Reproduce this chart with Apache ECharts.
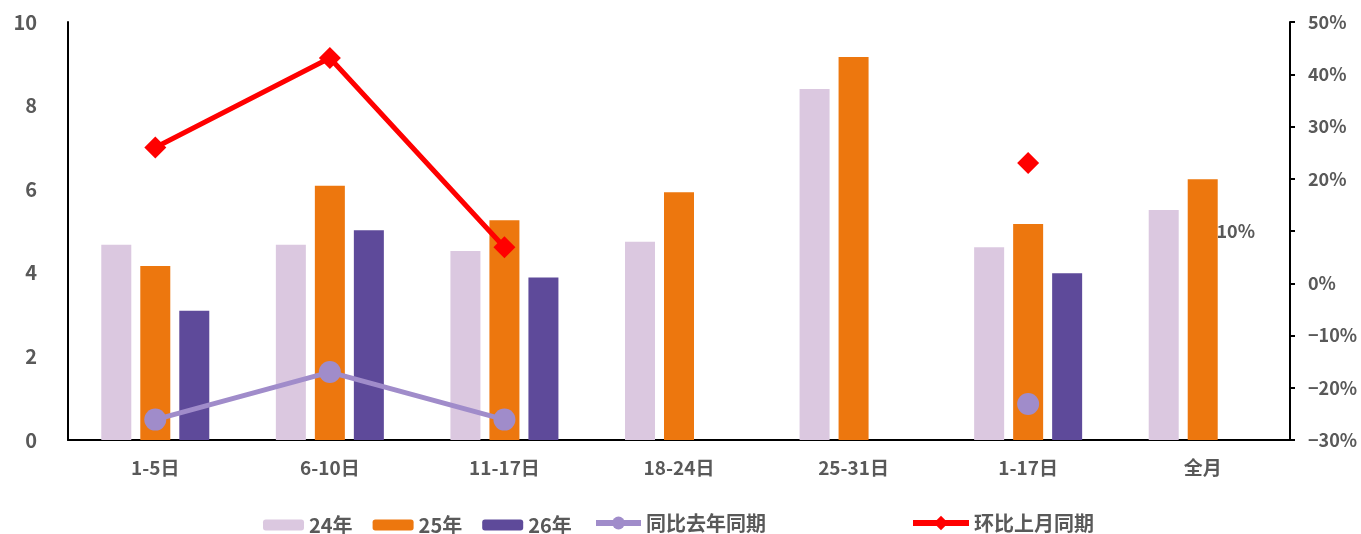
<!DOCTYPE html>
<html><head><meta charset="utf-8">
<script src="https://cdn.jsdelivr.net/npm/echarts@6/dist/echarts.min.js"></script>
<style>html,body{margin:0;padding:0;background:#fff}#c{width:1361px;height:534px}</style>
</head><body><div id="c"></div>
<script>
const categories = ['1-5日','6-10日','11-17日','18-24日','25-31日','1-17日','全月'];
const y24 = [4.67, 4.67, 4.52, 4.74, 8.40, 4.61, 5.50];
const y25 = [4.16, 6.08, 5.26, 5.93, 9.16, 5.17, 6.24];
const y26 = [3.09, 5.02, 3.89, null, null, 3.99, null];
const yoy = [-26.1, -17.0, -26.1, null, null, -23.1, null];
const mom = [26.0, 43.1, 6.9, null, null, 23.0, null];
const momLabelOnly = [null, null, null, null, null, null, 10];
const leftTicks = {min: 0, max: 10, interval: 2};
const rightTicks = {min: -30, max: 50, interval: 10};

const FONT = "'Noto Sans CJK SC', sans-serif";
const GRAY = '#595959';
const legendText = {color: GRAY, fontSize: 20, fontWeight: 'bold', fontFamily: FONT};
const chart = echarts.init(document.getElementById('c'));
chart.setOption({
  animation: false,
  textStyle: {fontFamily: FONT},
  grid: {left: 68, right: 71, top: 22, bottom: 94},
  legend: [
    {left: 263, top: 515, padding: 0, itemWidth: 41, itemHeight: 11, itemGap: 20, textStyle: legendText,
     data: ['24年','25年','26年']},
    {left: 593, top: 513, padding: 0, itemWidth: 45, itemHeight: 16, textStyle: legendText,
     lineStyle: {width: 6}, data: ['同比去年同期']},
    {left: 910, top: 513, padding: 0, itemWidth: 56, itemHeight: 18, textStyle: legendText,
     lineStyle: {width: 6}, data: ['环比上月同期']}
  ],
  xAxis: {
    type: 'category', data: categories,
    axisLine: {lineStyle: {color: '#000', width: 2}},
    axisTick: {show: false},
    axisLabel: {color: GRAY, fontSize: 19, fontWeight: 'bold', margin: 18, fontFamily: FONT}
  },
  yAxis: [
    {type: 'value', min: leftTicks.min, max: leftTicks.max, interval: leftTicks.interval,
     splitLine: {show: false},
     axisLine: {show: true, lineStyle: {color: '#000', width: 2}},
     axisTick: {show: false},
     axisLabel: {color: GRAY, fontSize: 20, fontWeight: 'bold', margin: 31, fontFamily: FONT}},
    {type: 'value', min: rightTicks.min, max: rightTicks.max, interval: rightTicks.interval,
     splitLine: {show: false},
     axisLine: {show: true, lineStyle: {color: '#000', width: 2}},
     axisTick: {show: true, length: 5, lineStyle: {color: '#000', width: 2}},
     axisLabel: {color: GRAY, fontSize: 18, fontWeight: 'bold', margin: 18, fontFamily: FONT,
       formatter: v => v === 10 ? '' : (v < 0 ? '\u2212' + Math.abs(v) : v) + '%'}}
  ],
  series: [
    {name: '24年', type: 'bar', data: y24, barWidth: 30, barGap: '30%', itemStyle: {color: '#DBC8E0'}},
    {name: '25年', type: 'bar', data: y25, barWidth: 30, barGap: '30%', itemStyle: {color: '#ED770E'}},
    {name: '26年', type: 'bar', data: y26, barWidth: 30, barGap: '30%', itemStyle: {color: '#5E4A9A'}},
    {name: '同比去年同期', type: 'line', yAxisIndex: 1, data: yoy, symbol: 'circle', symbolSize: 22,
     lineStyle: {color: '#A08CCA', width: 5}, itemStyle: {color: '#A08CCA'}},
    {name: '环比上月同期', type: 'line', yAxisIndex: 1, data: mom, symbol: 'diamond', symbolSize: 22,
     lineStyle: {color: '#FF0000', width: 5}, itemStyle: {color: '#FF0000'}},
    {name: 'momLabel', type: 'line', yAxisIndex: 1, data: momLabelOnly, symbol: 'circle', symbolSize: 1,
     silent: true, lineStyle: {opacity: 0}, itemStyle: {color: 'rgba(0,0,0,0)'},
     label: {show: true, position: 'inside', offset: [33, 0], formatter: p => p.value + '%',
             color: GRAY, fontSize: 18, fontWeight: 'bold', fontFamily: FONT}}
  ]
});
</script></body></html>
